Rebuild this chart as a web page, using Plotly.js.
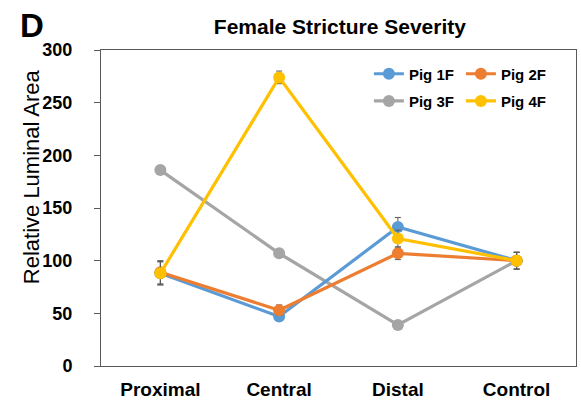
<!DOCTYPE html>
<html>
<head>
<meta charset="utf-8">
<script src="https://cdn.plot.ly/plotly-3.0.1.min.js"></script>
<style>html,body{margin:0;padding:0;background:#fff;}#chart{width:581px;height:403px;}</style>
</head>
<body>
<div id="chart"></div>
<script>
var categories = ["Proximal", "Central", "Distal", "Control"];
var seriesNames = ["Pig 1F", "Pig 2F", "Pig 3F", "Pig 4F"];
var pig1F = [88, 47, 132, 100];
var pig2F = [89, 53, 107, 100];
var pig3F = [186, 107, 39, 100];
var pig4F = [88, 274, 121, 100];
var err1F = [11, 3, 9, 8];
var err2F = [11, 5, 6, 8];
var err3F = [0, 0, 0, 0];
var err4F = [11, 6, 8, 8];
var colors = ["#5B9BD5", "#ED7D31", "#A5A5A5", "#FFC000"];

var values = [pig1F, pig2F, pig3F, pig4F];
var errs = [err1F, err2F, err3F, err4F];
var legendIds = ["legend", "legend", "legend2", "legend2"];
var order = [2, 0, 1, 3];
var traces = order.map(function (i) {
  return {
    type: "scatter",
    mode: "lines+markers",
    name: "<b>" + seriesNames[i] + "</b>",
    x: categories,
    y: values[i],
    legend: legendIds[i],
    legendrank: i,
    line: {color: colors[i], width: 3.2},
    marker: {color: colors[i], size: 12},
    error_y: {type: "data", array: errs[i], visible: true, color: "#595959", thickness: 1, width: 3}
  };
});

var font = "Liberation Sans, Arial, sans-serif";
var legendBase = {orientation: "h", xanchor: "left", yanchor: "middle", font: {size: 15, family: font},
  entrywidth: 47, bgcolor: "rgba(0,0,0,0)", traceorder: "normal", itemwidth: 30};
var leg1 = Object.assign({}, legendBase, {x: 0.564, y: 0.924});
var leg2 = Object.assign({}, legendBase, {x: 0.564, y: 0.838});

var layout = {
  width: 581, height: 403,
  margin: {l: 101, r: 5, t: 50, b: 37},
  paper_bgcolor: "#fff", plot_bgcolor: "#fff",
  font: {family: font, color: "#000"},
  title: {text: "<b>Female Stricture Severity</b>", font: {size: 21, family: font}, x: 0.585, xanchor: "center", y: 0.935, yanchor: "middle"},
  showlegend: true,
  legend: leg1,
  legend2: leg2,
  xaxis: {
    type: "category", range: [-0.5, 3.5],
    showline: true, linecolor: "#595959", linewidth: 1, mirror: true,
    ticks: "", showgrid: false, zeroline: false,
    tickfont: {size: 19, family: font},
    ticklabelstandoff: 6,
    tickprefix: "<b>", ticksuffix: "</b>"
  },
  yaxis: {
    range: [0, 300], dtick: 50,
    showline: true, linecolor: "#595959", linewidth: 1, mirror: true,
    ticks: "outside", ticklen: 6, tickcolor: "#595959",
    showgrid: false, zeroline: false,
    tickfont: {size: 18, family: font},
    ticklabelstandoff: 18,
    tickprefix: "<b>", ticksuffix: "</b>"
  },
  annotations: [{
    text: "<b>D</b>", xref: "paper", yref: "paper", x: -0.175, y: 1.079,
    xanchor: "left", yanchor: "middle", showarrow: false, font: {size: 33, family: font}
  }, {
    text: "Relative Luminal Area", textangle: -90, xref: "paper", yref: "paper",
    x: -0.147, y: 0.598, xanchor: "center", yanchor: "middle", showarrow: false,
    font: {size: 22, family: font}
  }]
};

Plotly.newPlot("chart", traces, layout, {displayModeBar: false, staticPlot: true});
</script>
</body>
</html>
